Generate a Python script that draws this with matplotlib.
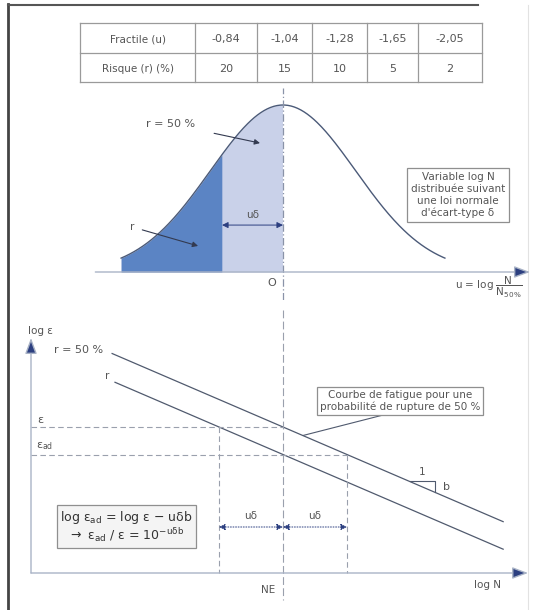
import numpy as np
import matplotlib.pyplot as plt

plt.rcParams['font.family'] = ['DejaVu Sans']

W, H = 536, 610

# table: fractile u of the normal law vs risk r
fractile = ['-0,84', '-1,04', '-1,28', '-1,65', '-2,05']
risque = ['20', '15', '10', '5', '2']
row_heads = ['Fractile (u)', 'Risque (r) (%)']

u_r = -0.84      # fractile shaded on the density (r = 20 %)
u_tail = 2.23    # half-width of the drawn density
u_delta = 1.0    # shift u.delta along log N
b = 0.43         # slope of the fatigue lines

col_edges = [80, 195, 257, 312, 367, 418, 482]
row_edges = [23, 53, 82]

txt = '#555555'
navy = '#2c3f80'
axis_col = '#a9b3c6'
light = '#c9d1e9'
dark = '#5b84c4'
line_col = '#505a6e'


def ax_px(left, top, right, bottom, **kw):
    return fig.add_axes([left / W, 1 - bottom / H, (right - left) / W, (bottom - top) / H], **kw)


def dbl_arrow(ax, x0, x1, y, ls='-'):
    ax.annotate('', xy=(x1, y), xytext=(x0, y),
                arrowprops=dict(arrowstyle='<|-|>', color=navy, lw=0.7, ls=ls,
                                mutation_scale=9, shrinkA=0, shrinkB=0))


def axis_arrow(ax, start, end):
    ax.annotate('', xy=end, xytext=start,
                arrowprops=dict(arrowstyle='-|>,head_length=0.8,head_width=0.3', ec=axis_col,
                                fc=navy, lw=1, mutation_scale=12, shrinkA=0, shrinkB=0))


fig = plt.figure(figsize=(W / 100, H / 100), dpi=100)

# ---- page frame + table ----
ov = ax_px(0, 0, W, H)
ov.set_xlim(0, W)
ov.set_ylim(H, 0)
ov.axis('off')
ov.plot([8, 8], [4, H], color='#444444', lw=2)
ov.plot([8, 478], [5, 5], color='#555555', lw=1.5)
ov.plot([528, 528], [5, H], color='#e2e2e2', lw=0.8)

for x in col_edges:
    ov.plot([x, x], [row_edges[0], row_edges[-1]], color='#9a9a9a', lw=0.9)
for y in row_edges:
    ov.plot([col_edges[0], col_edges[-1]], [y, y], color='#9a9a9a', lw=0.9)
for r, (head, vals) in enumerate(zip(row_heads, [fractile, risque])):
    yc = (row_edges[r] + row_edges[r + 1]) / 2 + 1
    ov.text((col_edges[0] + col_edges[1]) / 2, yc, head, ha='center', va='center',
            fontsize=7.5, color=txt)
    for i, v in enumerate(vals):
        ov.text((col_edges[i + 1] + col_edges[i + 2]) / 2, yc, v, ha='center', va='center',
                fontsize=8, color=txt)

# ---- top: density of log N ----
px_u = 72.6
px_p = 167.0
top = ax_px(30, 88, 530, 300)
top.patch.set_alpha(0)
top.set_xlim((30 - 283) / px_u, (530 - 283) / px_u)
top.set_ylim(-(300 - 272) / px_p, 1 + (105 - 88) / px_p)
top.axis('off')

u = np.linspace(-u_tail, u_tail, 300)
p = np.exp(-u ** 2 / 2)
top.fill_between(u, 0, p, where=u <= 0, color=light, lw=0)
top.fill_between(u, 0, p, where=u <= u_r, color=dark, lw=0)
top.plot(u, p, color='#4b5a78', lw=1)
top.plot([0, 0], [-0.17, 1.1], color='#8a93a8', lw=0.9, ls=(0, (6, 2, 1, 2)))
axis_arrow(top, (top.get_xlim()[0] + 0.9, 0), (top.get_xlim()[1], 0))
dbl_arrow(top, u_r, 0, 0.281)
top.text(u_r / 2, 0.34, 'uδ', ha='center', va='center', fontsize=7.5, color=txt)

top.annotate('r = 50 %', xy=(-0.317, 0.772), xytext=(-1.55, 0.886), ha='center', va='center',
             fontsize=8, color=txt,
             arrowprops=dict(arrowstyle='-|>', color='#333a50', lw=0.8, mutation_scale=8,
                             shrinkA=12, shrinkB=0))
top.annotate('r', xy=(-1.17, 0.156), xytext=(-2.08, 0.27), ha='center', va='center',
             fontsize=7.5, color=txt,
             arrowprops=dict(arrowstyle='-|>', color='#333a50', lw=0.8, mutation_scale=8,
                             shrinkA=4, shrinkB=0))
top.text(-0.15, -0.066, 'O', ha='center', va='center', fontsize=8, color=txt)
top.text(2.41, 0.461, 'Variable log N\ndistribuée suivant\nune loi normale\nd\'écart-type δ',
         ha='center', va='center', fontsize=7.5, color=txt, linespacing=1.25,
         bbox=dict(boxstyle='square,pad=0.35', fc='white', ec='#8f8f8f', lw=0.9))
top.text(3.3, -0.09, r'u = log $\dfrac{\mathrm{N}}{\mathrm{N}_{50\%}}$', ha='right',
         va='center', fontsize=7.5, color=txt)

# ---- bottom: fatigue lines log eps vs log N ----
px = 64.0
bot = ax_px(31, 310, 530, 600)
bot.patch.set_alpha(0)
x_lo, x_hi = (31 - 283) / px, (530 - 283) / px
bot.set_xlim(x_lo, x_hi)
bot.set_ylim(-(600 - 427) / px, (427 - 310) / px)
bot.axis('off')

y_axis = -(573 - 427) / px
axis_arrow(bot, (x_lo, y_axis), (x_lo, (427 - 338) / px))
axis_arrow(bot, (x_lo, y_axis), (x_hi - 0.03, y_axis))

x50 = np.array([-2.67, 3.44])
xr = np.array([-2.625, 3.44])
bot.plot(x50, -b * x50, color=line_col, lw=0.9)
bot.plot(xr, -b * (xr + u_delta), color=line_col, lw=0.9)

eps_ad = -b * u_delta
dash = dict(color='#9aa0ad', lw=0.8, ls=(0, (5, 3)))
bot.plot([x_lo, 0], [0, 0], **dash)
bot.plot([x_lo, u_delta], [eps_ad, eps_ad], **dash)
bot.plot([-u_delta, -u_delta], [0, y_axis], **dash)
bot.plot([u_delta, u_delta], [eps_ad, y_axis], **dash)
bot.plot([0, 0], [1.83, -2.7], color='#9aa0ad', lw=0.8, ls=(0, (7, 3)), clip_on=False)

y_arr = -1.5625
dbl_arrow(bot, -u_delta, 0, y_arr, ls=':')
dbl_arrow(bot, 0, u_delta, y_arr, ls=':')
bot.text(-u_delta / 2, y_arr + 0.17, 'uδ', ha='center', va='center', fontsize=7.5, color=txt)
bot.text(u_delta / 2, y_arr + 0.17, 'uδ', ha='center', va='center', fontsize=7.5, color=txt)

bot.text(x_lo - 0.05, 1.5, 'log ε', ha='left', va='center', fontsize=7.5, color=txt)
bot.text(-3.2, 1.2, 'r = 50 %', ha='center', va='center', fontsize=8, color=txt)
bot.text(-2.75, 0.8, 'r', ha='center', va='center', fontsize=7.5, color=txt)
bot.text(-3.84, 0.11, 'ε', ha='left', va='center', fontsize=8, color=txt)
bot.text(-3.86, -0.3, r'ε$_{\mathrm{ad}}$', ha='left', va='center', fontsize=8, color=txt)
bot.text(-0.23, -2.55, 'NE', ha='center', va='center', fontsize=7.5, color=txt)
bot.text(3.2, -2.47, 'log N', ha='center', va='center', fontsize=7.5, color=txt)

bot.annotate('Courbe de fatigue pour une\nprobabilité de rupture de 50 %',
             xy=(0.31, -b * 0.31), xytext=(1.83, 0.406), ha='center', va='center',
             fontsize=7.5, color=txt, linespacing=1.15,
             bbox=dict(boxstyle='square,pad=0.3', fc='white', ec='#8f8f8f', lw=0.9),
             arrowprops=dict(arrowstyle='-', color=line_col, lw=0.8, shrinkA=0, shrinkB=0,
                             relpos=(0.47, 0)))

# slope triangle
x0, dx = 1.98, 0.4
bot.plot([x0, x0 + dx, x0 + dx], [-b * x0, -b * x0, -b * (x0 + dx)], color=line_col, lw=0.8)
bot.text(x0 + dx / 2, -b * x0 + 0.15, '1', ha='center', va='center', fontsize=7.5, color=txt)
bot.text(x0 + dx + 0.18, -b * (x0 + dx / 2), 'b', ha='center', va='center', fontsize=8,
         color=txt)

bot.text(-2.45, y_arr,
         'log ε$_{\\mathrm{ad}}$ = log ε − uδb\n'
         '$\\rightarrow$ ε$_{\\mathrm{ad}}$ / ε = 10$^{\\mathrm{-u\\delta b}}$',
         ha='center', va='center', fontsize=9, color='#333333', linespacing=1.0,
         bbox=dict(boxstyle='square,pad=0.25', fc='#f4f4f4', ec='#8f8f8f', lw=0.9))

fig.savefig('out.png', dpi=100)
